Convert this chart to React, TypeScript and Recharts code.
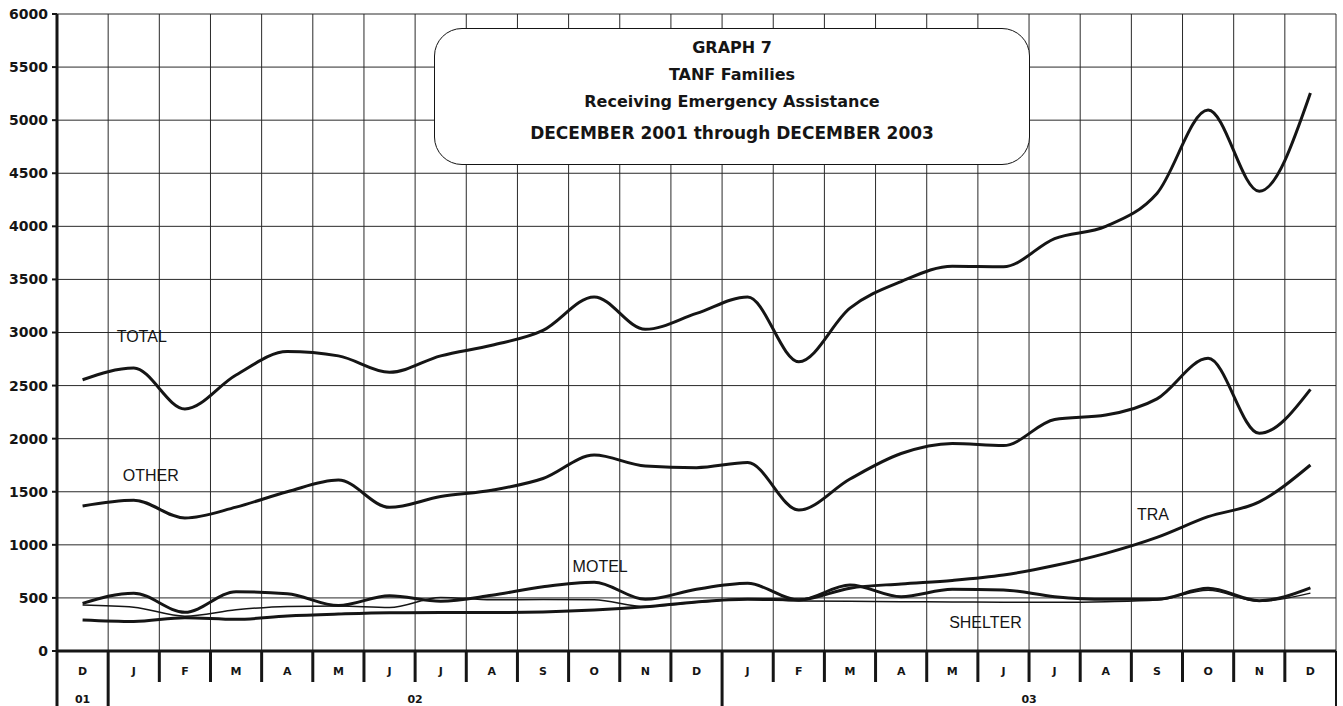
import React from 'react'
import { LineChart, Line, XAxis, YAxis, CartesianGrid, ReferenceDot } from 'recharts'

const monthKeys = [
  '2001-12',
  '2002-01', '2002-02', '2002-03', '2002-04', '2002-05', '2002-06',
  '2002-07', '2002-08', '2002-09', '2002-10', '2002-11', '2002-12',
  '2003-01', '2003-02', '2003-03', '2003-04', '2003-05', '2003-06',
  '2003-07', '2003-08', '2003-09', '2003-10', '2003-11', '2003-12',
]
const monthLabels = ['D', 'J', 'F', 'M', 'A', 'M', 'J', 'J', 'A', 'S', 'O', 'N', 'D', 'J', 'F', 'M', 'A', 'M', 'J', 'J', 'A', 'S', 'O', 'N', 'D']

const years = [
  { label: '01', from: 0, to: 0 },
  { label: '02', from: 1, to: 12 },
  { label: '03', from: 13, to: 24 },
]

const total = [2555, 2665, 2280, 2600, 2820, 2780, 2625, 2780, 2880, 3020, 3335, 3030, 3180, 3335, 2725, 3230, 3480, 3625, 3620, 3885, 4000, 4310, 5095, 4330, 5255]
const other = [1366, 1420, 1253, 1355, 1500, 1610, 1353, 1455, 1515, 1625, 1845, 1742, 1727, 1775, 1328, 1620, 1860, 1955, 1935, 2180, 2222, 2375, 2757, 2050, 2465]
const tra = [292, 278, 314, 298, 330, 348, 360, 362, 362, 368, 386, 417, 462, 487, 482, 592, 632, 665, 716, 805, 920, 1070, 1265, 1405, 1752]
const motel = [449, 545, 364, 558, 540, 428, 520, 468, 525, 605, 648, 487, 581, 637, 480, 622, 512, 581, 575, 512, 487, 487, 590, 474, 595]
const shelter = [433, 412, 328, 388, 420, 425, 410, 505, 482, 485, 482, 418, 458, 490, 472, 468, 465, 462, 460, 460, 465, 480, 572, 468, 545]

const yTicks = [0, 500, 1000, 1500, 2000, 2500, 3000, 3500, 4000, 4500, 5000, 5500, 6000]

const seriesNotes = [
  { text: 'TOTAL', at: '2002-01', value: 2960 },
  { text: 'OTHER', at: '2002-01', value: 1650 },
  { text: 'MOTEL', at: '2002-10', value: 800 },
  { text: 'TRA', at: '2003-09', value: 1290 },
  { text: 'SHELTER', at: '2003-06', value: 273 },
]

const titleLines = ['GRAPH 7', 'TANF Families', 'Receiving Emergency Assistance', 'DECEMBER 2001 through DECEMBER 2003']

const data = monthKeys.map((key, i) => ({
  key,
  total: total[i],
  other: other[i],
  tra: tra[i],
  motel: motel[i],
  shelter: shelter[i],
}))

const W = 1343
const H = 706
const M = { top: 14, right: 7, bottom: 0, left: 0 }
const Y_W = 57
const X_H = 55
const INK = '#151515'
const BAND = (W - M.left - M.right - Y_W) / monthKeys.length
const NUDGE: Record<string, number> = { TOTAL: 8, OTHER: 17, MOTEL: 6, TRA: -4, SHELTER: -18 }

function MonthTick(props: any) {
  const { x, y, payload } = props
  const i = payload?.index ?? props.index ?? 0
  const half = payload?.offset ? payload.offset : BAND / 2
  const band = half * 2
  const left = x - half
  const yr = years.find((v) => v.from === i)
  const last = i === monthKeys.length - 1
  return (
    <g>
      <line x1={left} x2={left} y1={y} y2={yr ? y + X_H : y + 31} stroke={INK} strokeWidth={3} />
      {last && <line x1={left + band} x2={left + band} y1={y} y2={y + X_H} stroke={INK} strokeWidth={2} />}
      <text x={x} y={y + 20} textAnchor="middle" dominantBaseline="central"
        fontFamily="DejaVu Sans" fontWeight="bold" fontSize={11} fill={INK}>
        {monthLabels[i]}
      </text>
      {yr && (
        <text x={left + ((yr.to - yr.from + 1) * band) / 2} y={y + 48} textAnchor="middle" dominantBaseline="central"
          fontFamily="DejaVu Sans" fontWeight="bold" fontSize={11} fill={INK}>
          {yr.label}
        </text>
      )}
    </g>
  )
}

function NoteLabel(text: string) {
  return (p: any) => {
    const vb = p.viewBox || {}
    const cx = (vb.x ?? 0) + (vb.width ?? 0) / 2 + (NUDGE[text] ?? 0)
    const cy = (vb.y ?? 0) + (vb.height ?? 0) / 2
    return (
      <text x={cx} y={cy} textAnchor="middle" dominantBaseline="central"
        fontFamily="Liberation Sans" fontSize={16} fill={INK}>
        {text}
      </text>
    )
  }
}

export default function App() {
  return (
    <div style={{ position: 'absolute', left: 0, top: 0, width: W, height: H, background: '#fff' }}>
      <LineChart width={W} height={H} data={data} margin={M}>
        <CartesianGrid
          stroke="#2a2a2a"
          strokeWidth={1}
          verticalCoordinatesGenerator={({ offset }: any) =>
            Array.from({ length: monthKeys.length + 1 }, (_, i) => offset.left + (i * offset.width) / monthKeys.length)
          }
        />
        <XAxis
          dataKey="key"
          scale="band"
          interval={0}
          height={X_H}
          tickSize={0}
          tickMargin={0}
          tickLine={false}
          axisLine={{ stroke: INK, strokeWidth: 3 }}
          tick={<MonthTick />}
        />
        <YAxis
          width={Y_W}
          domain={[0, 6000]}
          ticks={yTicks}
          interval={0}
          tickSize={5}
          tickMargin={4}
          axisLine={{ stroke: INK, strokeWidth: 3 }}
          tickLine={{ stroke: INK, strokeWidth: 2 }}
          tick={{ fontFamily: 'DejaVu Sans', fontWeight: 'bold', fontSize: 14, fill: INK }}
        />
        <Line dataKey="total" type="monotone" stroke={INK} strokeWidth={3} dot={false} isAnimationActive={false} />
        <Line dataKey="other" type="monotone" stroke={INK} strokeWidth={3} dot={false} isAnimationActive={false} />
        <Line dataKey="tra" type="monotone" stroke={INK} strokeWidth={3} dot={false} isAnimationActive={false} />
        <Line dataKey="motel" type="monotone" stroke={INK} strokeWidth={3} dot={false} isAnimationActive={false} />
        <Line dataKey="shelter" type="monotone" stroke={INK} strokeWidth={1.5} dot={false} isAnimationActive={false} />
        {seriesNotes.map((n) => (
          <ReferenceDot key={n.text} x={n.at} y={n.value} r={1} fill="none" stroke="none" label={NoteLabel(n.text)} />
        ))}
      </LineChart>
      <div
        style={{
          position: 'absolute',
          left: 434,
          top: 28,
          width: 596,
          height: 137,
          boxSizing: 'border-box',
          border: `1.5px solid ${INK}`,
          borderRadius: 28,
          background: '#fff',
          fontFamily: 'DejaVu Sans',
          fontWeight: 'bold',
          fontSize: 16,
          color: INK,
          textAlign: 'center',
        }}
      >
        {titleLines.map((t, i) => (
          <div key={t} style={{ position: 'absolute', left: 0, right: 0, top: [8, 35, 62, 93][i], lineHeight: '22px', fontSize: i === 3 ? 17 : 16 }}>
            {t}
          </div>
        ))}
      </div>
    </div>
  )
}
